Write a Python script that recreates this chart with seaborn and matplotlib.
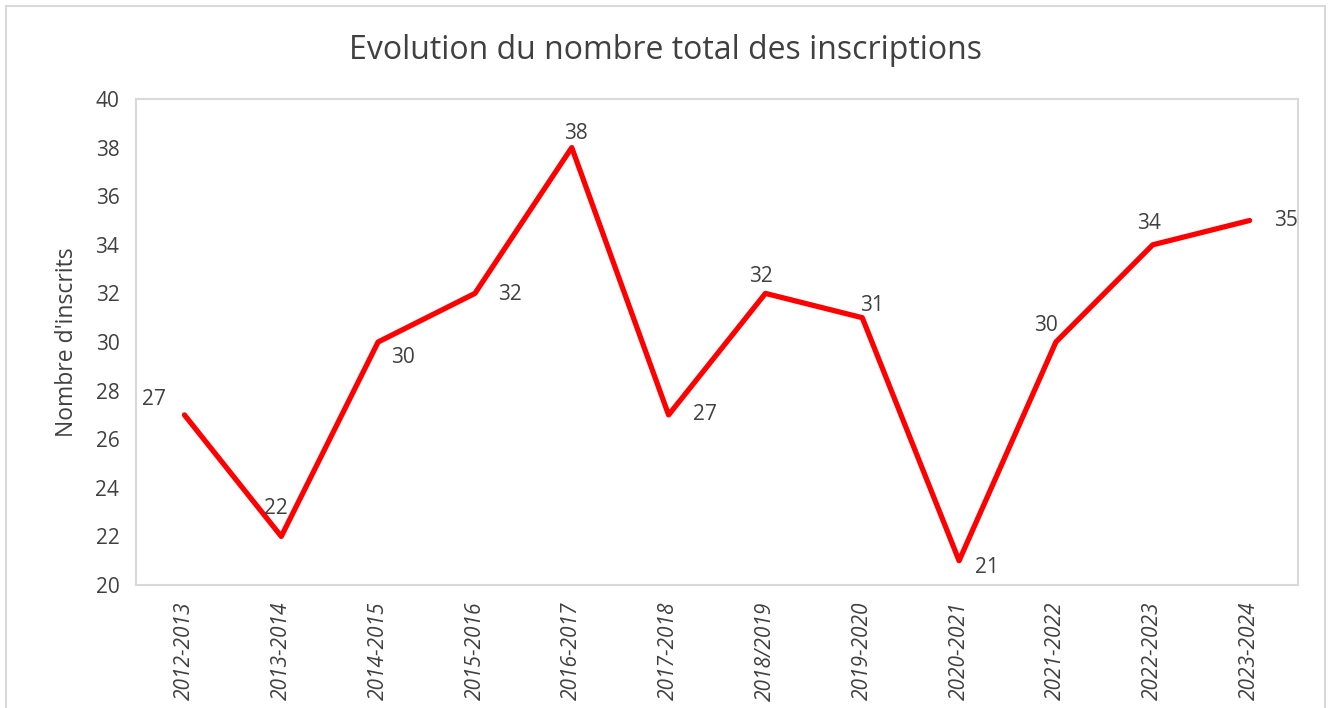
import numpy as np
import pandas as pd
import matplotlib.pyplot as plt
import seaborn as sns
from matplotlib.patches import Rectangle

# data
years = ["2012-2013", "2013-2014", "2014-2015", "2015-2016", "2016-2017", "2017-2018",
         "2018/2019", "2019-2020", "2020-2021", "2021-2022", "2022-2023", "2023-2024"]
inscrits = [27, 22, 30, 32, 38, 27, 32, 31, 21, 30, 34, 35]

# label offsets in points (placement of each data label)
label_offsets = [(-22, 11), (-4, 20), (18, -11), (25, -1), (3, 10), (26, 0),
                 (-3, 12), (7, 9), (20, -5), (-7, 12), (-3, 15), (26, 0)]

df = pd.DataFrame({"annee": years, "inscrits": inscrits})

sns.set_style("white")
plt.rcParams["font.family"] = ["Open Sans", "DejaVu Sans"]
text_color = "#404040"
grid_color = "#d9d9d9"

fig = plt.figure(figsize=(13.31, 7.08), dpi=100)
ax = fig.add_axes([0.1022, 0.1737, 0.873, 0.6865])

sns.lineplot(data=df, x="annee", y="inscrits", sort=False, color="#ff0000",
             linewidth=3.8, ax=ax, solid_capstyle="round", solid_joinstyle="round")

for i, (v, off) in enumerate(zip(inscrits, label_offsets)):
    ax.annotate(str(v), (i, v), xytext=off, textcoords="offset points",
                ha="center", va="center", fontsize=15, color=text_color)

ax.set_xlim(-0.5, len(years) - 0.5)
ax.set_ylim(20, 40)
ax.set_yticks(np.arange(20, 41, 2))
ax.set_xticks(range(len(years)))
ax.set_xticklabels(years, rotation=90, style="italic", fontsize=15, color=text_color)
ax.set_xticks(np.arange(-0.5, len(years), 1), minor=True)
ax.tick_params(axis="x", which="major", length=0, pad=12)
ax.tick_params(axis="x", which="minor", length=7, color=grid_color, width=1.2)
ax.tick_params(axis="y", length=0, labelsize=15, labelcolor=text_color, pad=12)

for s in ax.spines.values():
    s.set_visible(True)
    s.set_color(grid_color)
    s.set_linewidth(1.5)

ax.set_xlabel("")
ax.set_ylabel("Nombre d'inscrits", fontsize=16.5, color=text_color, labelpad=12)

fig.text(0.5, 0.928, "Evolution du nombre total des inscriptions", ha="center",
         va="center", fontsize=23, color=text_color)

fig.patches.append(Rectangle((0.0045, -0.1), 0.991, 1.091, transform=fig.transFigure,
                             fill=False, edgecolor=grid_color, linewidth=1.5))

fig.savefig("out.png", dpi=100)
